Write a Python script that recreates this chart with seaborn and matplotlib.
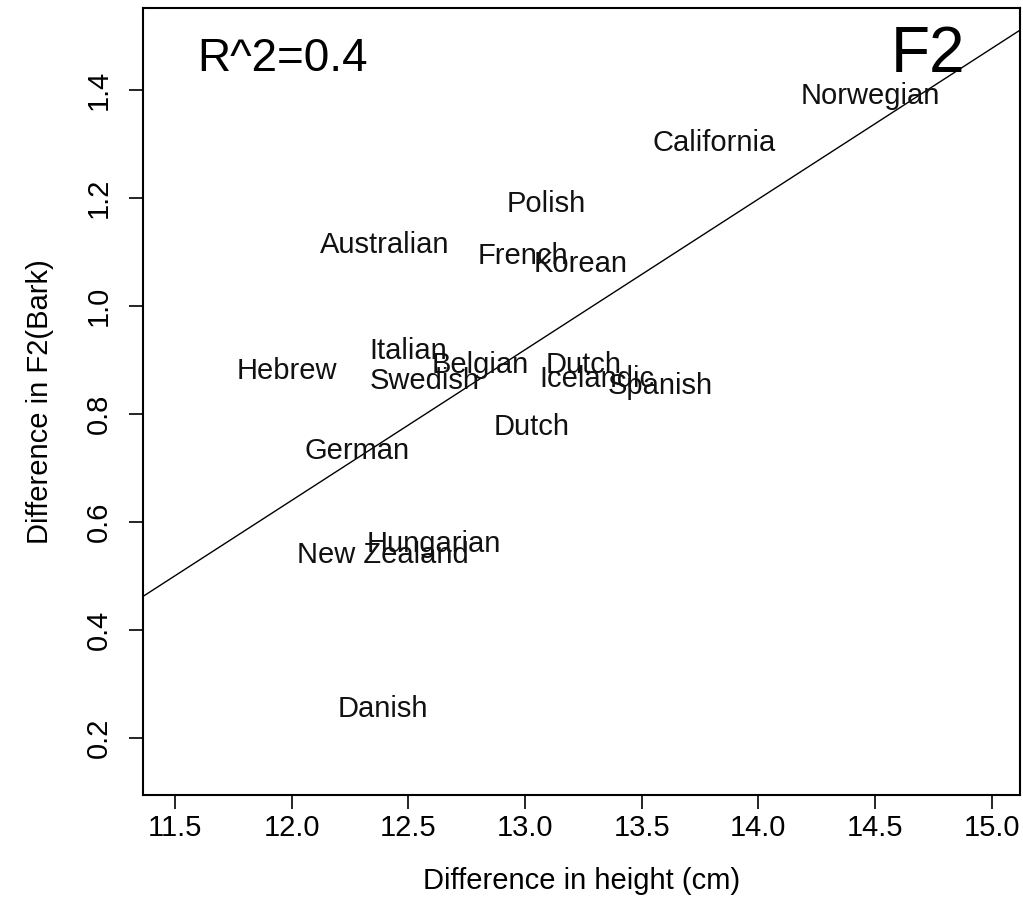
import numpy as np
import pandas as pd
import seaborn as sns
import matplotlib.pyplot as plt

# valores
languages = ['Norwegian', 'California', 'Polish', 'Australian', 'French', 'Korean',
             'Italian', 'Belgian', 'Dutch', 'Hebrew', 'Swedish', 'Icelandic',
             'Spanish', 'Dutch', 'German', 'Hungarian', 'New Zealand', 'Danish']
height_diff = [14.48, 13.81, 13.09, 12.40, 12.99, 13.24,
               12.50, 12.81, 13.25, 11.98, 12.57, 13.31,
               13.58, 13.03, 12.28, 12.61, 12.39, 12.39]
f2_diff = [1.390, 1.302, 1.189, 1.113, 1.093, 1.078,
           0.917, 0.891, 0.891, 0.880, 0.861, 0.865,
           0.852, 0.776, 0.731, 0.559, 0.539, 0.254]

x_ticks = [11.5, 12.0, 12.5, 13.0, 13.5, 14.0, 14.5, 15.0]
y_ticks = [0.2, 0.4, 0.6, 0.8, 1.0, 1.2, 1.4]

df = pd.DataFrame({'lang': languages, 'height': height_diff, 'f2': f2_diff})

sns.set_style('ticks')
plt.rcParams['font.family'] = ['Liberation Sans', 'DejaVu Sans']
plt.rcParams['text.color'] = 'black'
plt.rcParams['axes.labelcolor'] = 'black'
plt.rcParams['xtick.color'] = 'black'
plt.rcParams['ytick.color'] = 'black'

fig = plt.figure(figsize=(10.23, 9), dpi=100)
ax = fig.add_axes([0.1398, 0.1167, 0.857, 0.8743])
ax.set_xlim(11.363, 15.12)
ax.set_ylim(0.094, 1.552)

# reta de regressão
sns.regplot(data=df, x='height', y='f2', scatter=False, ci=None, truncate=False,
            line_kws={'color': 'black', 'lw': 1}, ax=ax)

for _, row in df.iterrows():
    ax.text(row['height'], row['f2'], row['lang'], ha='center', va='center',
            fontsize=21, color='#111111')

ax.text(0.062, 0.935, 'R^2=0.4', transform=ax.transAxes, fontsize=33,
        ha='left', va='center')
ax.text(0.896, 0.94, 'F2', transform=ax.transAxes, fontsize=46,
        ha='center', va='center')

ax.set_xticks(x_ticks)
ax.set_xticklabels([f'{t:.1f}' for t in x_ticks])
ax.set_yticks(y_ticks)
ax.set_yticklabels([f'{t:.1f}' for t in y_ticks], rotation=90, va='center')
ax.tick_params(labelsize=21, length=10, width=1.2)
ax.tick_params(axis='x', pad=4)
ax.tick_params(axis='y', pad=12)
for s in ax.spines.values():
    s.set_visible(True)
    s.set_linewidth(1.5)
    s.set_color('black')

ax.set_xlabel('Difference in height (cm)', fontsize=21, labelpad=18)
ax.set_ylabel('Difference in F2(Bark)', fontsize=21, labelpad=22)

fig.savefig('out.png', dpi=100)
